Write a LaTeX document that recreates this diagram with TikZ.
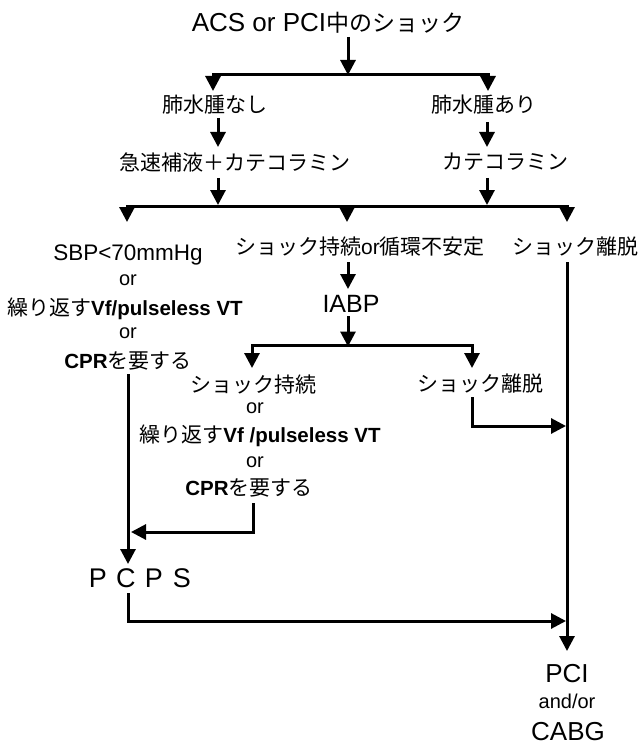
\documentclass[tikz,border=0pt]{standalone}
\usepackage{fontspec}
\setmainfont{Liberation Sans}
\newfontfamily\jpfam{Noto Sans CJK JP}
\usetikzlibrary{arrows.meta}
\newcommand\myjp[1]{{\jpfam\fontsize{21pt}{24pt}\selectfont #1}}
\newcommand\mylat[2]{{\fontsize{#1}{#1}\selectfont #2}}
\newcommand\mybf[1]{{\bfseries\fontsize{20.5pt}{24pt}\selectfont #1}}
\begin{document}
\begin{tikzpicture}[x=1pt,y=-1pt,
  lbl/.style={inner sep=0pt, anchor=base},
  arr/.style={line width=3pt,-{Triangle[width=15pt,length=15pt]}}]
\useasboundingbox (0,0) rectangle (643,746);
% texts
\node[lbl] (title) at (328,32) {\mylat{26pt}{ACS or PCI}{\jpfam\fontsize{23pt}{26pt}\selectfont 中のショック}};
\node[lbl] (n1) at (215,113) {\myjp{肺水腫なし}};
\node[lbl] (n2) at (484,113) {\myjp{肺水腫あり}};
\node[lbl] (n3) at (235,171) {\myjp{急速補液＋カテコラミン}};
\node[lbl] (n4) at (505,169) {\myjp{カテコラミン}};
\node[lbl] (s1) at (128,260) {\mylat{22.5pt}{SBP<70mmHg}};
\node[lbl] (s2) at (128,285) {\mylat{20pt}{or}};
\node[lbl] (s3) at (125,315) {\myjp{繰り返す}\mybf{Vf/pulseless VT}};
\node[lbl] (s4) at (128,338) {\mylat{20pt}{or}};
\node[lbl] (s5) at (128,368) {\mybf{CPR}\myjp{を要する}};
\node[lbl] (m1) at (360,254) {\myjp{ショック持続}\mylat{21pt}{or}\myjp{循環不安定}};
\node[lbl] (r1) at (575,254) {\myjp{ショック離脱}};
\node[lbl] (iabp) at (351,312) {\mylat{25pt}{IABP}};
\node[lbl] (k1) at (253,392) {\myjp{ショック持続}};
\node[lbl] (k2) at (255,413) {\mylat{20pt}{or}};
\node[lbl] (k3) at (260,442) {\myjp{繰り返す}\mybf{Vf /pulseless VT}};
\node[lbl] (k4) at (255,467) {\mylat{20pt}{or}};
\node[lbl] (k5) at (249,495) {\mybf{CPR}\myjp{を要する}};
\node[lbl] (r2) at (480,391) {\myjp{ショック離脱}};
\node[lbl] (pcps) at (140,587) {\mylat{27pt}{\makebox[28pt]{P}\makebox[28pt]{C}\makebox[28pt]{P}\makebox[28pt]{S}}};
\node[lbl] (pci) at (567,682) {\mylat{26pt}{PCI}};
\node[lbl] (ao) at (567,708) {\mylat{20pt}{and/or}};
\node[lbl] (cabg) at (568,740) {\mylat{26pt}{CABG}};
% junction coordinates
\coordinate (t0) at (348,37);
\coordinate (j0) at (348,75);
\coordinate (p1) at (213,91);
\coordinate (p2) at (488,91);
\coordinate (n1a) at (218,118);
\coordinate (n1b) at (218,147);
\coordinate (n2a) at (487,122);
\coordinate (n2b) at (487,147);
\coordinate (n3a) at (218,178);
\coordinate (n3b) at (218,205);
\coordinate (n4a) at (487,178);
\coordinate (n4b) at (487,205);
\coordinate (j2) at (347,206);
\coordinate (q1) at (127,222);
\coordinate (q2) at (347,222);
\coordinate (q3) at (567,222);
\coordinate (m1a) at (348,262);
\coordinate (m1b) at (348,289);
\coordinate (r1a) at (567,262);
\coordinate (r1b) at (567,651);
\coordinate (ia) at (348,316);
\coordinate (j3) at (348,345);
\coordinate (u1) at (252,368);
\coordinate (u2) at (472,368);
\coordinate (r2a) at (472,397);
\coordinate (r2b) at (566,426);
\coordinate (k5a) at (253,503);
\coordinate (k5b) at (131,532);
\coordinate (s5a) at (128,374);
\coordinate (s5b) at (128,564);
\coordinate (pa) at (128,593);
\coordinate (pb) at (566,621);
% connectors
\draw[arr] (t0) -- (j0);
\draw[arr] (j0) -| (p1);
\draw[arr] (j0) -| (p2);
\draw[arr] (n1a) -- (n1b);
\draw[arr] (n2a) -- (n2b);
\draw[arr] (n3a) -- (n3b);
\draw[arr] (n4a) -- (n4b);
\draw[arr] (j2) -| (q1);
\draw[arr] (j2) -| (q3);
\draw[arr] (j2) -- (q2);
\draw[arr] (m1a) -- (m1b);
\draw[arr] (r1a) -- (r1b);
\draw[arr] (ia) -- ([yshift=-1.5pt]j3);
\draw[arr] (j3) -| (u1);
\draw[arr] (j3) -| (u2);
\draw[arr] (r2a) |- (r2b);
\draw[arr] (k5a) |- (k5b);
\draw[arr] (s5a) -- (s5b);
\draw[arr] (pa) |- (pb);
\end{tikzpicture}
\end{document}
